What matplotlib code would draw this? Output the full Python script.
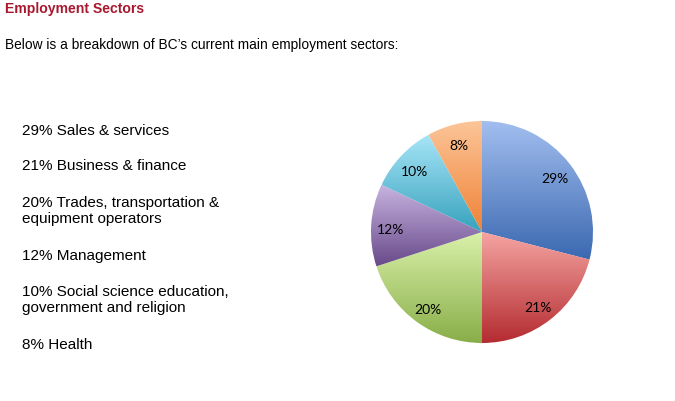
import numpy as np
import matplotlib.pyplot as plt
from matplotlib.colors import LinearSegmentedColormap

# Dados
valores = [29, 21, 20, 12, 10, 8]
rotulos_pie = ["29%", "21%", "20%", "12%", "10%", "8%"]
legenda = [
    "29% Sales & services",
    "21% Business & finance",
    "20% Trades, transportation &\nequipment operators",
    "12% Management",
    "10% Social science education,\ngovernment and religion",
    "8% Health",
]
# cores (topo, base) de cada fatia, gradiente vertical
cores_topo = ["#a2beef", "#f5a5a2", "#d9f1aa", "#c8b4e0", "#a8e5f8", "#fcc598"]
cores_base = ["#3a68b0", "#b42b30", "#89ae48", "#684a8a", "#37a2bd", "#ef8236"]

fig = plt.figure(figsize=(6.75, 4.01), dpi=100)
W, H = 675, 401

# Titulo e subtitulo
fig.text(5 / W, 1 - 9 / H, "Employment Sectors", fontsize=10.1, fontweight="bold",
         color="#a8182f", family="Liberation Sans", va="center", ha="left")
fig.text(5 / W, 1 - 45 / H, "Below is a breakdown of BC\u2019s current main employment sectors:",
         fontsize=9.95, color="black", family="Liberation Sans", va="center", ha="left")

# Lista a esquerda
ys = [131, 166, 211, 256, 300, 345]
for y, txt in zip(ys, legenda):
    fig.text(22 / W, 1 - y / H, txt, fontsize=11, color="black",
             family="Liberation Sans", va="center", ha="left", linespacing=1.1)

# Pizza
cx, cy, r = 482, 232, 111
ax = fig.add_axes([(cx - r) / W, (H - cy - r) / H, 2 * r / W, 2 * r / H])
wedges, textos = ax.pie(valores, startangle=90, counterclock=False, radius=1,
                        labels=None, wedgeprops=dict(linewidth=0))

for w, ct, cb, lab in zip(wedges, cores_topo, cores_base, rotulos_pie):
    verts = w.get_path().vertices
    y0, y1 = verts[:, 1].min(), verts[:, 1].max()
    x0, x1 = verts[:, 0].min(), verts[:, 0].max()
    w.set_facecolor("none")
    cmap = LinearSegmentedColormap.from_list("g", [cb, ct])
    grad = np.linspace(0, 1, 256).reshape(-1, 1)
    im = ax.imshow(grad, extent=[x0, x1, y0, y1], origin="lower", cmap=cmap,
                   aspect="auto", zorder=1)
    im.set_clip_path(w)
    ang = np.deg2rad((w.theta1 + w.theta2) / 2)
    ax.text(0.83 * np.cos(ang), 0.83 * np.sin(ang) - 0.03, lab, ha="center", va="center",
            fontsize=10, family="Lato", color="black", zorder=3)

ax.set_xlim(-1, 1)
ax.set_ylim(-1, 1)
ax.set_aspect("equal")
ax.axis("off")

plt.savefig("out.png", dpi=100)
